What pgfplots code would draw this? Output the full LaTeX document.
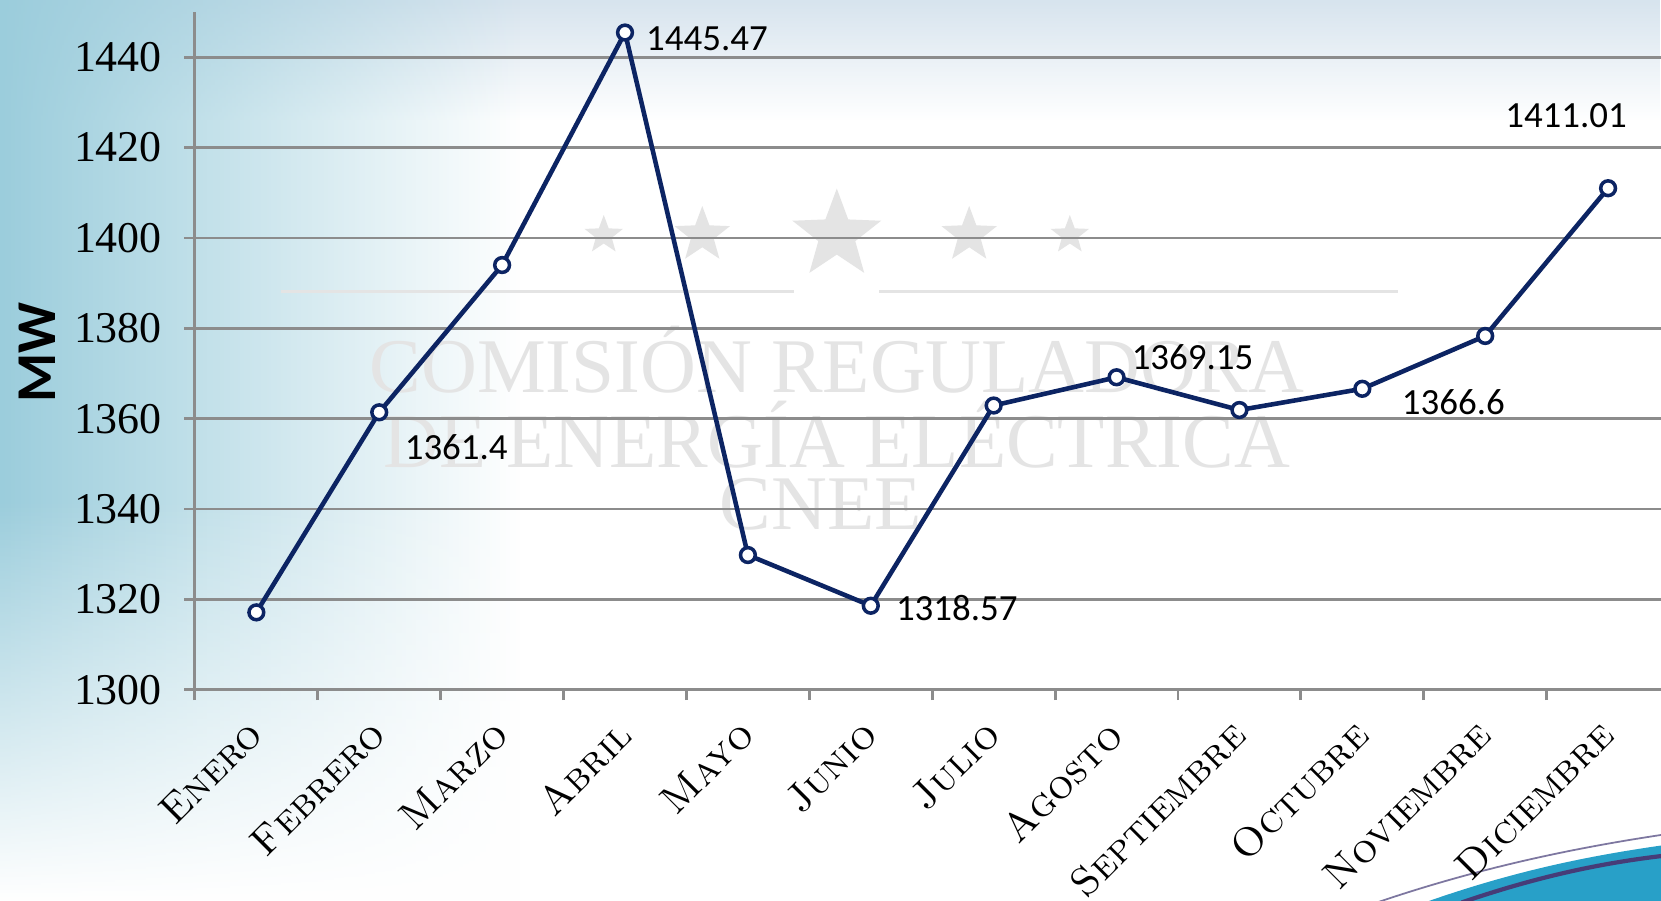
\documentclass[border=0pt]{standalone}
\usepackage{fontspec}
\usepackage{pgfplots}
\pgfplotsset{compat=1.18}
\usetikzlibrary{shapes.geometric,fadings}
\newfontfamily\tickfont{Liberation Serif}
\newfontfamily\calib{Carlito}
\definecolor{navy}{RGB}{12,36,99}
\definecolor{gridgray}{RGB}{140,140,140}
\definecolor{wm}{RGB}{228,228,228}
\definecolor{bgblue}{RGB}{155,205,220}
\definecolor{topband}{RGB}{215,228,238}
\definecolor{swoosh}{RGB}{40,160,200}
\definecolor{swoosh2}{RGB}{70,60,120}

\begin{document}
\begin{tikzpicture}
\useasboundingbox (0,0) rectangle (16.61,9);
\fill[white] (0,0) rectangle (16.61,9);
\fill[topband, path fading=south] (0,7.8) rectangle (16.61,9);
\fill[bgblue, path fading=east] (0,0) rectangle (5.2,9);
\fill[white, path fading=north] (0,0) rectangle (6,4);

% watermark and decorations, coordinates in pixels of the reference
\begin{scope}[shift={(0,9cm)}, x=0.10593mm, y=-0.10593mm]
  \fill[swoosh] (1345,852) .. controls (1430,822) and (1500,808) .. (1570,798) -- (1570,852) -- cycle;
  \draw[swoosh2, line width=1.2pt] (1380,852) .. controls (1450,828) and (1510,815) .. (1570,808);
  \draw[swoosh2!70, line width=0.5pt] (1300,852) .. controls (1400,818) and (1490,800) .. (1570,788);
  \foreach \x/\s in {570/38, 663/55, 790/88, 915/55, 1010/38}
    \node[star, star points=5, star point ratio=2.4, fill=wm, inner sep=0pt, minimum size=\s*0.10593mm] at (\x,222) {};
  \draw[wm, line width=1pt] (265,275) -- (750,275);
  \draw[wm, line width=1pt] (830,275) -- (1320,275);
  \node[wm, font=\tickfont\fontsize{22}{22}\selectfont] at (790,340) {COMISIÓN REGULADORA};
  \node[wm, font=\tickfont\fontsize{22}{22}\selectfont] at (790,410) {DE ENERGÍA ELÉCTRICA};
  \node[wm, font=\tickfont\fontsize{22}{22}\selectfont] at (775,476) {CNEE};
  \node[rotate=90, font=\calib\bfseries\fontsize{16}{16}\selectfont] at (35,333) {MW};
\end{scope}

\begin{axis}[
    at={(1.949cm,2.104cm)}, anchor=south west,
    scale only axis,
    width=14.66cm, height=6.775cm,
    xmin=-0.5, xmax=11.43,
    ymin=1300, ymax=1450,
    ytick={1300,1320,...,1440},
    xtick={0,...,11},
    xticklabels={\textsc{Enero},\textsc{Febrero},\textsc{Marzo},\textsc{Abril},\textsc{Mayo},\textsc{Junio},\textsc{Julio},\textsc{Agosto},\textsc{Septiembre},\textsc{Octubre},\textsc{Noviembre},\textsc{Diciembre}},
    minor xtick={-0.5,0.5,...,11.5},
    major x tick style={draw=none},
    ymajorgrids,
    grid style={gridgray, line width=0.8pt},
    axis x line*=bottom, axis y line*=left,
    axis line style={gridgray, line width=0.8pt, -},
    tick style={gridgray, line width=0.8pt},
    tick align=outside,
    major tick length=1.06mm, minor tick length=1.06mm,
    /pgf/number format/assume math mode=true,
    /pgf/number format/1000 sep={},
    yticklabel style={font=\tickfont\fontsize{12.5}{12.5}\selectfont, xshift=-1mm},
    xticklabel style={xshift=-1.1mm, rotate=45, anchor=north east, font=\fontsize{11.5}{11.5}\selectfont},
    clip=false,
]
\addplot[navy, line width=1.3pt, mark=*, mark size=2.1pt, mark options={fill=white, draw=navy, line width=1pt}]
  coordinates {(0,1317.1) (1,1361.4) (2,1394.0) (3,1445.47) (4,1329.8) (5,1318.57)
               (6,1362.9) (7,1369.15) (8,1361.9) (9,1366.6) (10,1378.3) (11,1411.01)};
\begin{scope}[font=\calib\fontsize{10.5}{10.5}\selectfont]
\node at (axis cs:3,1445.47) [xshift=8.2mm, yshift=-0.6mm] {1445.47};
\node at (axis cs:1,1361.4) [xshift=7.7mm, yshift=-3.5mm] {1361.4};
\node at (axis cs:11,1411.01) [xshift=-4.2mm, yshift=7.3mm] {1411.01};
\node at (axis cs:7,1369.15) [xshift=7.6mm, yshift=2.0mm] {1369.15};
\node at (axis cs:9,1366.6) [xshift=9.1mm, yshift=-1.3mm] {1366.6};
\node at (axis cs:5,1318.57) [xshift=8.6mm, yshift=-0.2mm] {1318.57};
\end{scope}
\end{axis}
\end{tikzpicture}
\end{document}
